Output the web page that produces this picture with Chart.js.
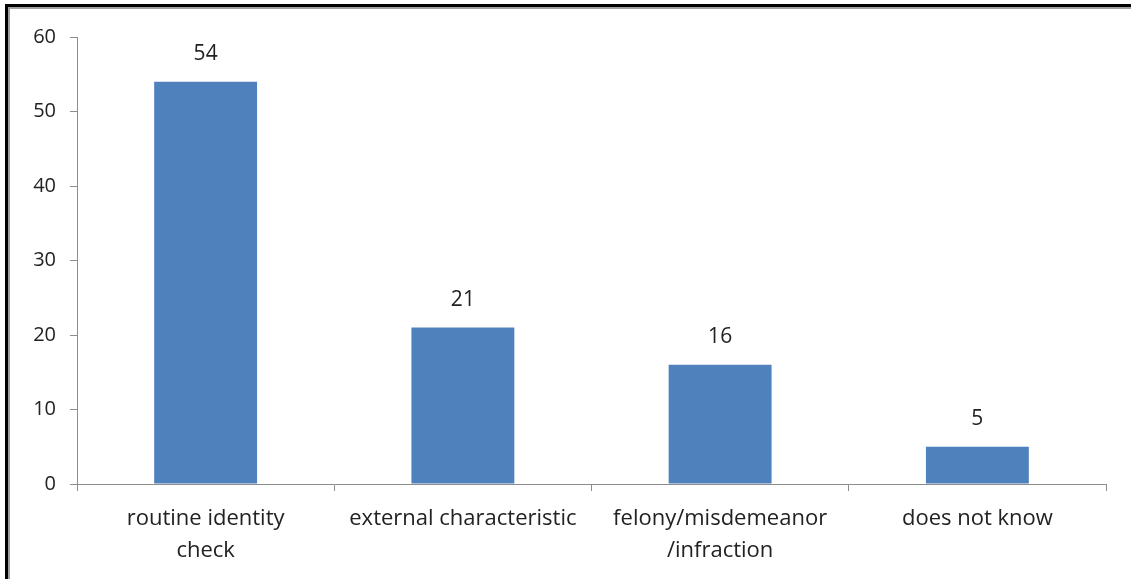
<!DOCTYPE html>
<html>
<head>
<meta charset="utf-8">
<script src="https://cdn.jsdelivr.net/npm/chart.js@4"></script>
<style>
  html, body { margin: 0; padding: 0; background: #fff; }
  #wrap { position: relative; width: 1131px; height: 579px; overflow: hidden; }
  #frame {
    position: absolute; left: 5px; top: 4px; right: -10px; bottom: -10px;
    border-top: 3px solid #000; border-left: 3px solid #000;
    pointer-events: none;
  }
  #frame::after {
    content: ""; position: absolute; left: 0; top: 0; right: 0; bottom: 0;
    border-top: 2px solid #a0a0a0; border-left: 2px solid #a0a0a0;
  }
</style>
</head>
<body>
<div id="wrap">
  <canvas id="chart" width="1131" height="579"></canvas>
  <div id="frame"></div>
</div>
<script>
// data
const categories = [['routine identity', 'check'], 'external characteristic', ['felony/misdemeanor', '/infraction'], 'does not know'];
const values = [54, 21, 16, 5];
const yTicks = [0, 10, 20, 30, 40, 50, 60];

const FONT = '"Open Sans", sans-serif';

// value labels above the bars
const barLabels = {
  id: 'barLabels',
  afterDatasetsDraw(chart) {
    const ctx = chart.ctx;
    const meta = chart.getDatasetMeta(0);
    ctx.save();
    ctx.font = '21px ' + FONT;
    ctx.fillStyle = '#222';
    ctx.textAlign = 'center';
    ctx.textBaseline = 'middle';
    meta.data.forEach((bar, i) => {
      ctx.fillText(values[i], bar.x, bar.y - 28);
    });
    ctx.restore();
  }
};

new Chart(document.getElementById('chart'), {
  type: 'bar',
  data: {
    labels: categories,
    datasets: [{
      data: values,
      backgroundColor: '#4f81bd',
      borderWidth: 0,
      categoryPercentage: 1,
      barPercentage: 0.4
    }]
  },
  options: {
    responsive: false,
    animation: false,
    layout: { padding: { top: 37, right: 25, left: 0, bottom: 0 } },
    plugins: { legend: { display: false }, tooltip: { enabled: false } },
    scales: {
      y: {
        min: 0, max: 60,
        afterFit(scale) { scale.width = 77; },
        afterBuildTicks(scale) { scale.ticks = yTicks.map(v => ({ value: v })); },
        border: { color: '#8c8c8c', width: 1 },
        grid: { drawOnChartArea: false, tickLength: 7, color: '#8c8c8c' },
        ticks: { padding: 14, color: '#222', font: { family: FONT, size: 20 } }
      },
      x: {
        afterFit(scale) { scale.height = 95; },
        border: { color: '#8c8c8c', width: 1 },
        grid: { drawOnChartArea: false, tickLength: 7, color: '#8c8c8c', offset: true },
        ticks: { padding: 12, color: '#222', maxRotation: 0, font: { family: FONT, size: 22, lineHeight: 1.45 } }
      }
    }
  },
  plugins: [barLabels]
});
</script>
</body>
</html>
